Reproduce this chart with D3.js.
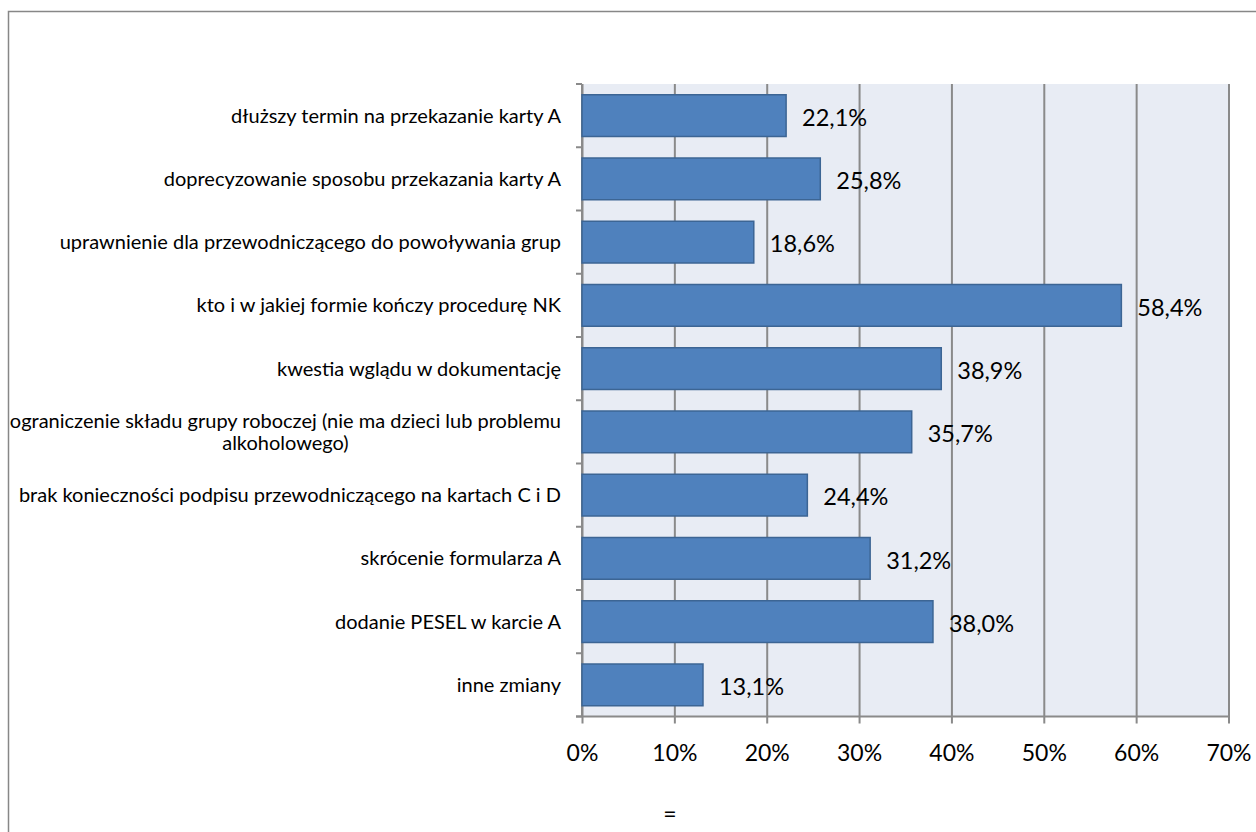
<!DOCTYPE html>
<html>
<head>
<meta charset="utf-8">
<script src="https://cdn.jsdelivr.net/npm/d3@7"></script>
<style>
  html, body { margin: 0; padding: 0; background: #fff; }
  svg { display: block; font-family: Lato, "Open Sans", sans-serif; }
</style>
</head>
<body>
<svg id="chart" width="1256" height="832"></svg>
<script>
// Odpowiedzi: proponowane zmiany w procedurze
const categories = [
  "dłuższy termin na przekazanie karty A",
  "doprecyzowanie sposobu przekazania karty A ",
  "uprawnienie dla przewodniczącego do powoływania grup",
  "kto i w jakiej formie kończy procedurę NK",
  "kwestia wglądu w dokumentację",
  "ograniczenie składu grupy roboczej (nie ma dzieci lub problemu\nalkoholowego)",
  "brak konieczności podpisu przewodniczącego na kartach C i D",
  "skrócenie formularza A",
  "dodanie PESEL w karcie A",
  "inne zmiany"
];
const values = [22.1, 25.8, 18.6, 58.4, 38.9, 35.7, 24.4, 31.2, 38.0, 13.1];
const xTicks = [0, 10, 20, 30, 40, 50, 60, 70];
const footnote = "=";

const svg = d3.select("#chart");

// outer frame
svg.append("rect")
  .attr("x", 8.5).attr("y", 11.5)
  .attr("width", 1400).attr("height", 1000)
  .attr("fill", "none").attr("stroke", "#878787").attr("stroke-width", 1.5);

const plot = { left: 582, right: 1228.5, top: 84, bottom: 716.5 };

const x = d3.scaleLinear().domain([0, 70]).range([plot.left, plot.right]);
const y = d3.scaleBand().domain(categories).range([plot.top, plot.bottom]).padding(0);
const barPad = 0.17;

// plot background
svg.append("rect")
  .attr("x", plot.left).attr("y", plot.top)
  .attr("width", plot.right - plot.left).attr("height", plot.bottom - plot.top)
  .attr("fill", "#E8ECF4");

// vertical gridlines + bottom axis
const xAxis = d3.axisBottom(x)
  .tickValues(xTicks)
  .tickSize(-(plot.bottom - plot.top))
  .tickSizeOuter(0)
  .tickFormat(d => d + "%");
const gx = svg.append("g")
  .attr("transform", `translate(0,${plot.bottom})`)
  .call(xAxis);
gx.select(".domain").remove();
gx.selectAll(".tick line")
  .attr("stroke", "#8A8A8A").attr("stroke-width", 2).attr("y2", -(plot.bottom - plot.top)).attr("y1", 7);
gx.selectAll(".tick text")
  .attr("y", 36).attr("dy", "0.35em")
  .attr("fill", "#000").attr("font-size", 23).attr("font-family", "Lato, sans-serif");

// bottom baseline
svg.append("line")
  .attr("x1", plot.left - 6).attr("x2", plot.right)
  .attr("y1", plot.bottom).attr("y2", plot.bottom)
  .attr("stroke", "#8A8A8A").attr("stroke-width", 2);

// left axis line with ticks on category boundaries
svg.append("line")
  .attr("x1", plot.left).attr("x2", plot.left)
  .attr("y1", plot.top).attr("y2", plot.bottom)
  .attr("stroke", "#8A8A8A").attr("stroke-width", 2);
const boundaries = categories.map(c => y(c)).concat([y(categories[categories.length - 1]) + y.bandwidth()]);
svg.append("g").selectAll("line")
  .data(boundaries)
  .join("line")
  .attr("x1", plot.left - 6).attr("x2", plot.left)
  .attr("y1", d => d).attr("y2", d => d)
  .attr("stroke", "#8A8A8A").attr("stroke-width", 2);

// bars
svg.append("g").selectAll("rect")
  .data(values)
  .join("rect")
  .attr("x", x(0))
  .attr("y", (d, i) => y(categories[i]) + y.bandwidth() * barPad)
  .attr("width", d => x(d) - x(0))
  .attr("height", y.bandwidth() * (1 - 2 * barPad))
  .attr("fill", "#4F81BD")
  .attr("stroke", "#3C6594")
  .attr("stroke-width", 1.5);

// value labels
svg.append("g").selectAll("text")
  .data(values)
  .join("text")
  .attr("x", d => x(d) + 16)
  .attr("y", (d, i) => y(categories[i]) + y.bandwidth() / 2 + 2)
  .attr("dy", "0.35em")
  .attr("font-size", 23.5)
  .attr("fill", "#000")
  .text(d => d.toFixed(1).replace(".", ",") + "%");

// category labels (right aligned; multi-line blocks centred within their width)
const labelRight = 561;
const lineH = 22;
const lg = svg.append("g");
categories.forEach(c => {
  const lines = c.split("\n");
  const cy = y(c) + y.bandwidth() / 2;
  const t = lg.append("text")
    .attr("font-size", 20)
    .attr("fill", "#000");
  lines.forEach((ln, i) => {
    t.append("tspan")
      .attr("y", cy + (i - (lines.length - 1) / 2) * lineH)
      .attr("dy", "0.35em")
      .text(ln);
  });
  if (lines.length === 1) {
    t.attr("text-anchor", "end");
    t.selectAll("tspan").attr("x", labelRight);
  } else {
    let w = 0;
    t.selectAll("tspan").each(function () { w = Math.max(w, this.getComputedTextLength()); });
    t.attr("text-anchor", "middle");
    t.selectAll("tspan").attr("x", labelRight - w / 2);
  }
});

// footnote
svg.append("text")
  .attr("x", 670).attr("y", 814)
  .attr("text-anchor", "middle")
  .attr("dy", "0.35em")
  .attr("font-size", 23)
  .text(footnote);
</script>
</body>
</html>
